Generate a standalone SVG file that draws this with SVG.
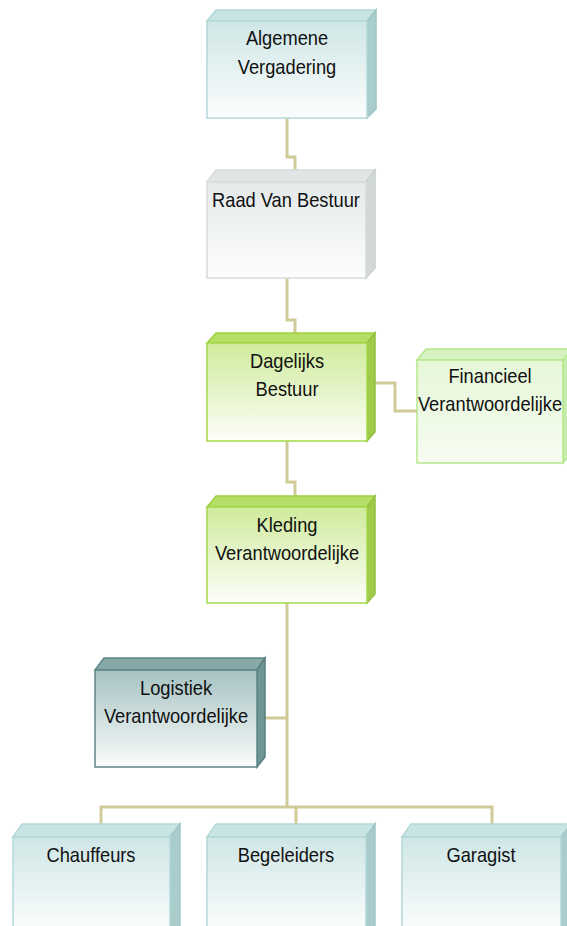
<svg xmlns="http://www.w3.org/2000/svg" width="567" height="926" viewBox="0 0 567 926">
<defs>
<linearGradient id="gCyan" x1="0" y1="0" x2="0" y2="1"><stop offset="0" stop-color="#cfe6e6"/><stop offset="1" stop-color="#fbfdfd"/></linearGradient>
<linearGradient id="gGray" x1="0" y1="0" x2="0" y2="1"><stop offset="0" stop-color="#e4e9e9"/><stop offset="1" stop-color="#fdfdfd"/></linearGradient>
<linearGradient id="gGreen" x1="0" y1="0" x2="0" y2="1"><stop offset="0" stop-color="#cfeb9c"/><stop offset="1" stop-color="#fdfef9"/></linearGradient>
<linearGradient id="gLight" x1="0" y1="0" x2="0" y2="1"><stop offset="0" stop-color="#e6f7d8"/><stop offset="1" stop-color="#f6fcf1"/></linearGradient>
<linearGradient id="gTeal" x1="0" y1="0" x2="0" y2="1"><stop offset="0" stop-color="#a6c2c2"/><stop offset="1" stop-color="#fafcfc"/></linearGradient>
</defs>
<style>
text{font-family:"Liberation Sans",Arial,sans-serif;font-size:21px;fill:#111;text-anchor:middle}
.cyan .front{fill:url(#gCyan);stroke:#b4d8d8}
.cyan .top{fill:#c8e4e4;stroke:#b4d8d8}
.cyan .side{fill:#a9cdcd;stroke:#a0c6c6}
.gray .front{fill:url(#gGray);stroke:#d6dcdc}
.gray .top{fill:#e0e5e5;stroke:#d6dcdc}
.gray .side{fill:#d2d8d8;stroke:#c8d0d0}
.green .front{fill:url(#gGreen);stroke:#a5d84a}
.green .top{fill:#b4de66;stroke:#a0d040}
.green .side{fill:#9fcb4c;stroke:#94c040}
.light .front{fill:url(#gLight);stroke:#b5e88c}
.light .top{fill:#d6f2c0;stroke:#b5e88c}
.light .side{fill:#c8ecac;stroke:#b5e88c}
.teal .front{fill:url(#gTeal);stroke:#5f8686}
.teal .top{fill:#86a8a8;stroke:#5f8686}
.teal .side{fill:#6f9595;stroke:#5a8080}
rect,polygon{stroke-width:1.5}
#connectors path{fill:none;stroke:#cfcb98;stroke-width:3}
</style>
<g id="connectors">
<path d="M287,118 V157 H295 V170"/>
<path d="M287,278 V320 H295 V333"/>
<path d="M375,383 H395 V411 H417"/>
<path d="M287,441 V482 H295 V496"/>
<path d="M287,603 V807"/>
<path d="M265,718 H287"/>
<path d="M101,824 V807 H492 V824"/>
<path d="M296,807 V824"/>
</g>
<g id="algemene" class="cyan">
<polygon class="top" points="207,21 216,10 376,10 367,21"/>
<polygon class="side" points="367,21 376,10 376,109 367,118"/>
<rect class="front" x="207" y="21" width="160" height="97"/>
<text transform="translate(287,45) scale(0.87,1)">Algemene</text>
<text transform="translate(287,74) scale(0.87,1)">Vergadering</text>
</g>
<g id="raad" class="gray">
<polygon class="top" points="207,182 216,170 375,170 366,182"/>
<polygon class="side" points="366,182 375,170 375,268 366,278"/>
<rect class="front" x="207" y="182" width="159" height="96"/>
<text transform="translate(286,207) scale(0.87,1)">Raad Van Bestuur</text>
</g>
<g id="dagelijks" class="green">
<polygon class="top" points="207,343 216,333 375,333 367,343"/>
<polygon class="side" points="367,343 375,333 375,432 367,441"/>
<rect class="front" x="207" y="343" width="160" height="98"/>
<text transform="translate(287,368) scale(0.87,1)">Dagelijks</text>
<text transform="translate(287,396) scale(0.87,1)">Bestuur</text>
</g>
<g id="financieel" class="light">
<polygon class="top" points="417,360 426,349 572,349 563,360"/>
<polygon class="side" points="563,360 572,349 572,452 563,463"/>
<rect class="front" x="417" y="360" width="146" height="103"/>
<text transform="translate(490,383) scale(0.87,1)">Financieel</text>
<text transform="translate(490,411) scale(0.87,1)">Verantwoordelijke</text>
</g>
<g id="kleding" class="green">
<polygon class="top" points="207,507 216,496 375,496 367,507"/>
<polygon class="side" points="367,507 375,496 375,594 367,603"/>
<rect class="front" x="207" y="507" width="160" height="96"/>
<text transform="translate(287,532) scale(0.87,1)">Kleding</text>
<text transform="translate(287,560) scale(0.87,1)">Verantwoordelijke</text>
</g>
<g id="logistiek" class="teal">
<polygon class="top" points="95,670 104,658 265,658 257,670"/>
<polygon class="side" points="257,670 265,658 265,757 257,767"/>
<rect class="front" x="95" y="670" width="162" height="97"/>
<text transform="translate(176,695) scale(0.87,1)">Logistiek</text>
<text transform="translate(176,723) scale(0.87,1)">Verantwoordelijke</text>
</g>
<g id="chauffeurs" class="cyan">
<polygon class="top" points="13,837 22,824 180,824 170,837"/>
<polygon class="side" points="170,837 180,824 180,930 170,930"/>
<rect class="front" x="13" y="837" width="157" height="95"/>
<text transform="translate(91,862) scale(0.87,1)">Chauffeurs</text>
</g>
<g id="begeleiders" class="cyan">
<polygon class="top" points="207,837 216,824 375,824 366,837"/>
<polygon class="side" points="366,837 375,824 375,930 366,930"/>
<rect class="front" x="207" y="837" width="159" height="95"/>
<text transform="translate(286,862) scale(0.87,1)">Begeleiders</text>
</g>
<g id="garagist" class="cyan">
<polygon class="top" points="402,837 411,824 571,824 561,837"/>
<polygon class="side" points="561,837 571,824 571,930 561,930"/>
<rect class="front" x="402" y="837" width="159" height="95"/>
<text transform="translate(481,862) scale(0.87,1)">Garagist</text>
</g>
</svg>
